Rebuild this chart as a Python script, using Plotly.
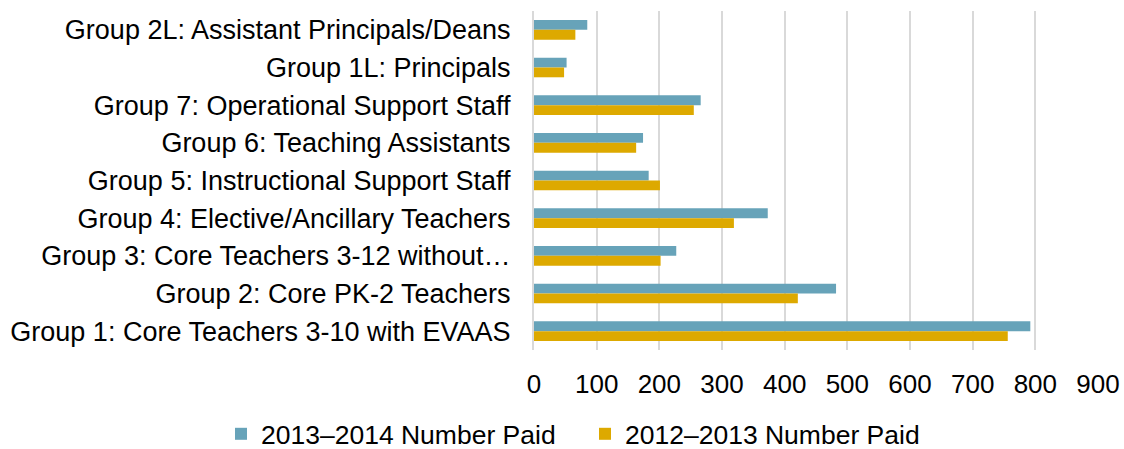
import plotly.graph_objects as go

categories = [
    "Group 2L: Assistant Principals/Deans",
    "Group 1L: Principals",
    "Group 7: Operational Support Staff",
    "Group 6: Teaching Assistants",
    "Group 5: Instructional Support Staff",
    "Group 4: Elective/Ancillary Teachers",
    "Group 3: Core Teachers 3-12 without…",
    "Group 2: Core PK-2 Teachers",
    "Group 1: Core Teachers 3-10 with EVAAS",
]
paid_2013_2014 = [85, 52, 266, 174, 183, 373, 227, 482, 792]
paid_2012_2013 = [66, 48, 255, 163, 201, 319, 202, 421, 756]
x_ticks = [0, 100, 200, 300, 400, 500, 600, 700, 800, 900]

font_family = "Liberation Sans, Arial, sans-serif"

fig = go.Figure()
fig.add_trace(go.Bar(
    y=categories, x=paid_2013_2014, orientation="h",
    name="2013–2014 Number Paid",
    marker=dict(color="#67A3B9", line=dict(width=0)),
))
fig.add_trace(go.Bar(
    y=categories, x=paid_2012_2013, orientation="h",
    name="2012–2013 Number Paid",
    marker=dict(color="#DDA900", line=dict(width=0)),
))

fig.update_layout(
    width=1124, height=449,
    margin=dict(l=534, r=26, t=11, b=99, autoexpand=False),
    paper_bgcolor="white", plot_bgcolor="white",
    barmode="group", bargap=0.48, bargroupgap=0,
    font=dict(family=font_family, size=27, color="#000000"),
    showlegend=True,
    legend=dict(
        orientation="h", x=-0.555, xanchor="left", y=-0.248, yanchor="middle",
        font=dict(size=26.5), itemwidth=30, entrywidth=319, entrywidthmode="pixels",
        bgcolor="rgba(0,0,0,0)",
    ),
)
fig.update_xaxes(
    range=[0, 900], tickvals=x_ticks, showgrid=True, gridcolor="#D9D9D9",
    gridwidth=2, zeroline=False, showline=False, ticks="",
    tickfont=dict(size=26), ticklabelstandoff=16,
)
fig.update_yaxes(
    autorange="reversed", showgrid=False, zeroline=False, showline=True,
    linecolor="#D9D9D9", linewidth=2, ticks="", tickfont=dict(size=27),
    ticklabelstandoff=16,
)

fig.write_html("out.html")
